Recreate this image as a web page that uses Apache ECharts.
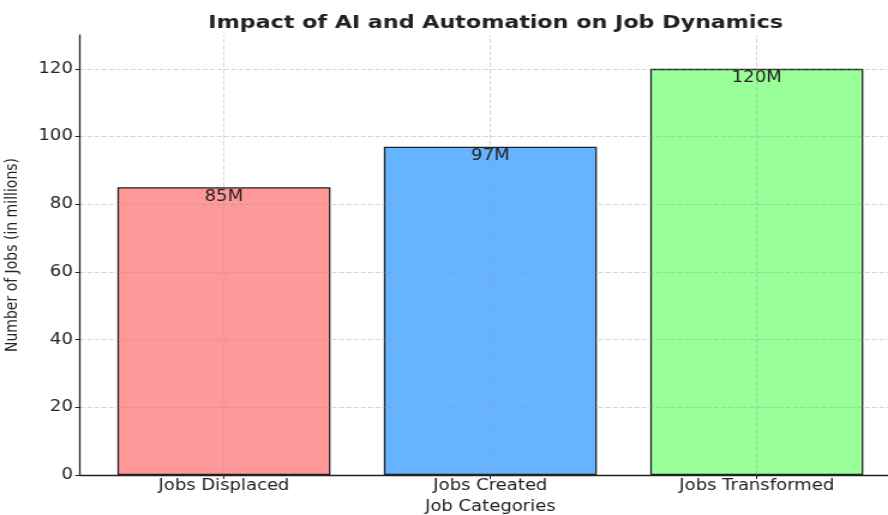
<!DOCTYPE html>
<html>
<head>
<meta charset="utf-8">
<script src="https://cdn.jsdelivr.net/npm/echarts@6/dist/echarts.min.js"></script>
<style>
  html, body { margin: 0; padding: 0; background: #fff; overflow: hidden; }
  /* the reference picture is stretched sideways, so draw narrower and stretch */
  #chart { width: 740px; height: 515px; transform: scaleX(1.2); transform-origin: 0 0; }
</style>
</head>
<body>
<div id="chart"></div>
<script>
// chart data
const categories = ['Jobs Displaced', 'Jobs Created', 'Jobs Transformed'];
const jobs = [85, 97, 120];
const barLabels = ['85M', '97M', '120M'];
const barColors = ['#ff9999', '#66b3ff', '#99ff99'];
const catPositions = [0, 1, 2];

const chart = echarts.init(document.getElementById('chart'));
const font = 'DejaVu Sans, sans-serif';
const gridLine = { type: 'dashed', color: 'rgba(150,150,150,0.4)', width: 1 };

chart.setOption({
  animation: false,
  backgroundColor: '#fff',
  title: {
    text: 'Impact of AI and Automation on Job Dynamics',
    left: 408,
    textAlign: 'center',
    top: 9,
    textStyle: { fontFamily: font, fontWeight: 'bold', fontSize: 18.5, color: '#222' }
  },
  grid: { left: 66.7, top: 35, bottom: 40, width: 683.8, outerBoundsMode: 'none' },
  xAxis: {
    type: 'value',
    min: -0.54,
    max: 2.54,
    z: 5,
    name: 'Job Categories',
    nameLocation: 'middle',
    nameGap: 25,
    nameTextStyle: { fontFamily: font, fontSize: 15, color: '#222' },
    axisLine: { onZero: false, lineStyle: { color: '#222', width: 1.3 } },
    axisTick: { show: true, length: 4, customValues: catPositions, lineStyle: { color: '#222' } },
    axisLabel: {
      fontFamily: font, fontSize: 15, color: '#222', margin: 4,
      customValues: catPositions,
      formatter: v => categories[Math.round(v)] || ''
    },
    splitLine: { show: false }
  },
  yAxis: {
    type: 'value',
    min: 0,
    max: 130,
    interval: 20,
    z: 5,
    name: 'Number of Jobs (in millions)',
    nameLocation: 'middle',
    nameGap: 49,
    nameTextStyle: { fontFamily: font, fontSize: 14, color: '#222' },
    axisLine: { show: true, onZero: false, lineStyle: { color: '#222', width: 1.3 } },
    axisTick: { show: true, length: 4, lineStyle: { color: '#222' } },
    axisLabel: {
      fontFamily: font, fontSize: 15, color: '#222', margin: 6,
      showMaxLabel: false
    },
    splitLine: { show: true, showMinLine: false, showMaxLine: false, lineStyle: gridLine }
  },
  series: [{
    type: 'bar',
    barWidth: 177.5,
    data: jobs.map((v, i) => ({
      value: [catPositions[i], v],
      itemStyle: { color: barColors[i], borderColor: '#222', borderWidth: 1.3 }
    })),
    label: {
      show: true,
      position: 'insideTop',
      distance: 2,
      fontFamily: font,
      fontSize: 15,
      color: '#222',
      formatter: p => barLabels[p.dataIndex]
    },
    // vertical grid lines at the categories, drawn over the bars
    markLine: {
      silent: true,
      symbol: ['none', 'none'],
      label: { show: false },
      lineStyle: gridLine,
      data: catPositions.map(x => ({ xAxis: x }))
    }
  }]
});
</script>
</body>
</html>
